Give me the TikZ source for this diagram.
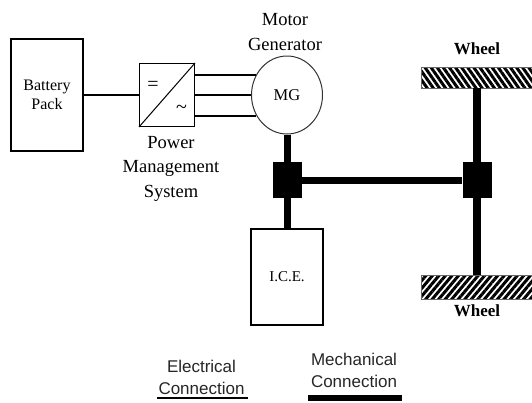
\documentclass[tikz,border=0pt]{standalone}
\usepackage{fontspec}
\setmainfont{Liberation Serif}
\newfontfamily\legendfont{Liberation Sans}
\usetikzlibrary{positioning, calc, patterns.meta, shapes.geometric}
\tikzset{
  block/.style    = {rectangle, draw, line width=1.2pt, align=center, inner sep=0pt,
                     font=\fontsize{16}{19.5}\selectfont},
  machine/.style  = {ellipse, draw=black!80, line width=1pt, inner sep=0pt,
                     minimum width=71pt, minimum height=78pt,
                     font=\fontsize{16.5}{16}\selectfont},
  joint/.style    = {rectangle, fill=black, inner sep=0pt, minimum width=29pt, minimum height=36pt},
  caption/.style  = {align=center, inner sep=0pt, font=\fontsize{18.5}{24.5}\selectfont},
  wheelpad/.style = {rectangle, draw=black!60, line width=0.8pt, minimum width=111pt, inner sep=0pt},
  wheellbl/.style = {inner sep=0pt, font=\fontsize{17}{18}\selectfont\bfseries},
  legendtxt/.style = {align=center, inner sep=0pt, font=\legendfont\fontsize{17}{22}\selectfont,
                     text=black!85},
  elec/.style     = {line width=1.2pt},
  mech/.style     = {line width=7pt},
}
\begin{document}
\begin{tikzpicture}[x=1pt, y=-1pt]
  \useasboundingbox (0,0) rectangle (532,402);

  % electrical side
  \node[block, minimum width=72pt, minimum height=112pt] (bat) at (47,95) {Battery\\Pack};
  \node[block, minimum width=55pt, minimum height=63pt] (conv) at (167,95) {};
  \node[machine] (mg) at (287,95) {MG};
  \draw[line width=1pt] (conv.south west) -- (conv.north east);
  \node[inner sep=0pt, font=\fontsize{20}{20}\selectfont] (eq) at (153,86) {=};
  \node[inner sep=0pt, font=\fontsize{20}{20}\selectfont] (ac) at (181.5,109) {\char`\~};
  \node[caption] (mglbl) at (285,32) {Motor\\Generator};
  \node[caption, below=9pt of conv, xshift=4pt] (pmslbl) {Power\\Management\\System};

  \coordinate (mgup) at ($(mg.west)+(4.5,-20)$);
  \coordinate (mgdn) at ($(mg.west)+(4.5,21)$);
  \draw[elec] (bat) -- (conv);
  \draw[elec] (conv.east |- mgup) -- (mgup);
  \draw[elec] (conv) -- (mg);
  \draw[elec] (conv.east |- mgdn) -- (mgdn);

  % mechanical side
  \node[joint] (jl) at (287.5,180) {};
  \node[joint] (jr) at (477,180) {};
  \node[block, minimum width=72pt, minimum height=96pt, font=\fontsize{15}{16}\selectfont] (ice) at (287,277) {I.C.E.};
  \node[wheelpad, minimum height=21pt,
        pattern={Lines[angle=-55, distance=5pt, line width=3pt]}] (wtop) at (476.5,78) {};
  \node[wheelpad, minimum height=24pt,
        pattern={Lines[angle=50, distance=5pt, line width=3pt]}] (wbot) at (476.5,287) {};
  \node[wheellbl] (wtoplbl) at (477,49) {Wheel};
  \node[wheellbl] (wbotlbl) at (477,311) {Wheel};

  \draw[mech] (mg.south -| jl) -- (jl);
  \draw[mech] (jl) -- (ice.north -| jl);
  \draw[mech] (jl) -- (jr);
  \draw[line width=8pt, shorten <=-2pt, shorten >=-1pt] (wtop.south -| jr) -- (wbot.north -| jr);

  % legend
  \node[legendtxt] (elecl) at (201.5,377) {Electrical\\Connection};
  \node[legendtxt] (mechl) at (354,370.5) {Mechanical\\Connection};
  \coordinate (ea) at (157,398);
  \coordinate (eb) at (248,398);
  \coordinate (ma) at (308,397.5);
  \coordinate (mb) at (402,397.5);
  \draw[elec] (ea) -- (eb);
  \draw[line width=6pt] (ma) -- (mb);
\end{tikzpicture}
\end{document}
